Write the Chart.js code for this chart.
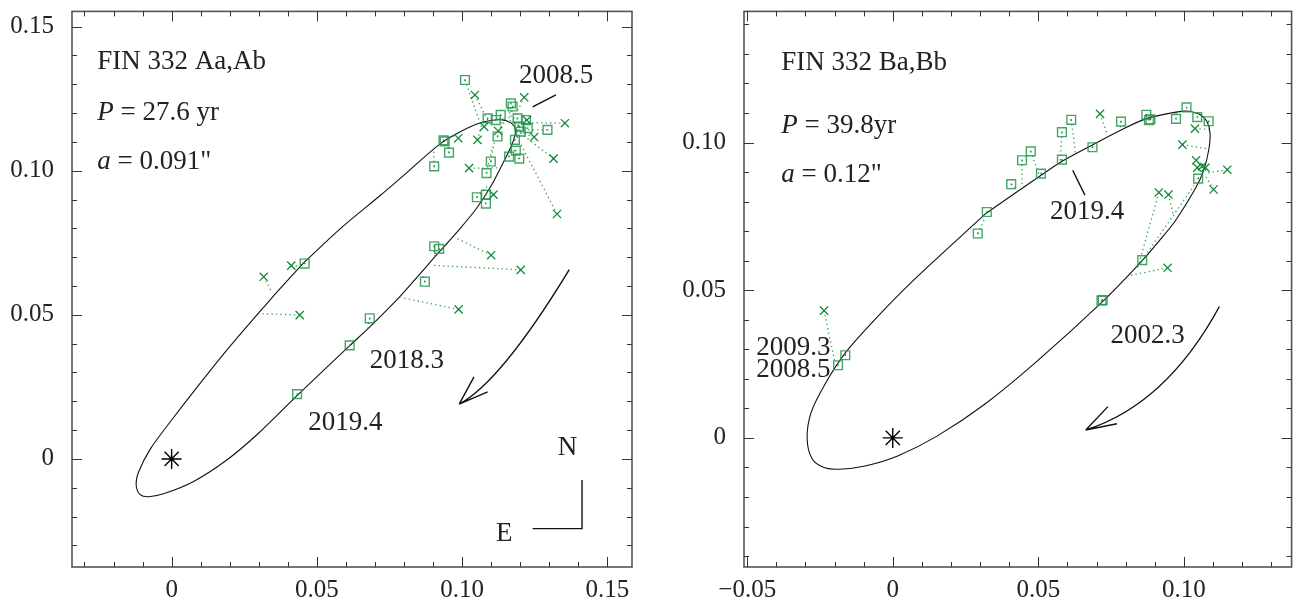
<!DOCTYPE html>
<html>
<head>
<meta charset="utf-8">
<script src="https://cdn.jsdelivr.net/npm/chart.js@4.4.1/dist/chart.umd.min.js"></script>
<style>
  body { margin: 0; background: #fff; }
  #wrap { position: relative; width: 1303px; height: 605px; }
  #left { position: absolute; left: 0; top: 0; }
  #right { position: absolute; left: 650px; top: 0; }
</style>
</head>
<body>
<div id="wrap">
  <canvas id="left" width="650" height="605"></canvas>
  <canvas id="right" width="653" height="605"></canvas>
</div>
<script>
// ---- FIN 332 Aa,Ab (left panel) ----
// orbit, closed loop
const orbitA = [
  [0.0455,0.0681],[0.0582,0.0800],[0.0719,0.0915],[0.0800,0.0985],[0.0927,0.1095],
  [0.1019,0.1148],[0.1076,0.1170],[0.1134,0.1177],[0.1168,0.1166],[0.1184,0.1140],
  [0.1172,0.1092],[0.1140,0.1025],[0.1099,0.0946],[0.1050,0.0870],[0.0990,0.0796],
  [0.0892,0.0685],[0.0789,0.0567],[0.0685,0.0461],[0.0613,0.0393],[0.0437,0.0225],
  [0.0300,0.0090],[0.0191,-0.0003],[0.0076,-0.0078],[-0.0028,-0.0121],[-0.0079,-0.0131],
  [-0.0108,-0.0124],[-0.0122,-0.0092],[-0.0114,-0.0046],[-0.0073,0.0035],[0.0000,0.0135],
  [0.0100,0.0265],[0.0200,0.0390],[0.0340,0.0553],[0.0455,0.0681]
];
// [x obs, y obs, x orbit, y orbit]
const squaresA = [
  [0.1010,0.1315,0.1064,0.1160],[0.0936,0.1106,0.0938,0.1106],[0.0940,0.1102,0.0940,0.1104],
  [0.0955,0.1063,0.0950,0.1115],[0.0904,0.1015,0.0902,0.1075],[0.1099,0.1032,0.1111,0.1100],
  [0.1084,0.0992,0.1105,0.1085],[0.1051,0.0908,0.1090,0.0950],[0.1082,0.0917,0.1090,0.0930],
  [0.1082,0.0886,0.1075,0.0895],[0.1168,0.1234,0.1160,0.1170],[0.1174,0.1223,0.1165,0.1168],
  [0.1088,0.1182,0.1085,0.1172],[0.1133,0.1194,0.1133,0.1177],[0.1116,0.1176,0.1115,0.1176],
  [0.1191,0.1182,0.1175,0.1160],[0.1220,0.1176,0.1180,0.1150],[0.1197,0.1153,0.1183,0.1145],
  [0.1226,0.1148,0.1185,0.1140],[0.1202,0.1136,0.1183,0.1130],[0.1122,0.1119,0.1140,0.1175],
  [0.1182,0.1107,0.1180,0.1110],[0.1294,0.1142,0.1185,0.1142],[0.1185,0.1070,0.1165,0.1070],
  [0.1162,0.1049,0.1160,0.1060],[0.1197,0.1042,0.1170,0.1085],[0.0458,0.0678,0.0455,0.0681],
  [0.0904,0.0738,0.0905,0.0700],[0.0921,0.0729,0.0915,0.0712],[0.0872,0.0615,0.0860,0.0645],
  [0.0682,0.0488,0.0676,0.0455],[0.0613,0.0394,0.0613,0.0393],[0.0432,0.0225,0.0437,0.0225]
];
const crossesA = [
  [0.1044,0.1263,0.1088,0.1175],[0.1214,0.1255,0.1170,0.1165],[0.1354,0.1165,0.1167,0.1168],
  [0.0987,0.1113,0.0960,0.1125],[0.1053,0.1107,0.1070,0.1170],[0.1124,0.1138,0.1150,0.1175],
  [0.1076,0.1153,0.1060,0.1168],[0.1248,0.1117,0.1185,0.1140],[0.1315,0.1042,0.1180,0.1147],
  [0.1024,0.1009,0.1133,0.1010],[0.1108,0.0917,0.1095,0.0935],[0.1327,0.0850,0.1185,0.1125],
  [0.1223,0.1176,0.1185,0.1150],[0.0412,0.0671,0.0432,0.0669],[0.0317,0.0632,0.0346,0.0577],
  [0.0441,0.0499,0.0300,0.0505],[0.0988,0.0519,0.0789,0.0560],[0.1100,0.0707,0.0974,0.0769],
  [0.1202,0.0656,0.0901,0.0672]
];
const xLabelsA = [0, 0.05, 0.10, 0.15];
const yLabelsA = [0, 0.05, 0.10, 0.15];

// ---- FIN 332 Ba,Bb (right panel) ----
const orbitB = [
  [0.0320,0.0760],[0.0512,0.0891],[0.0579,0.0935],[0.0686,0.0992],[0.0781,0.1041],
  [0.0871,0.1081],[0.0973,0.1103],[0.1018,0.1106],[0.1055,0.1095],[0.1079,0.1072],
  [0.1090,0.1030],[0.1085,0.0973],[0.1068,0.0906],[0.1040,0.0845],[0.0972,0.0737],
  [0.0916,0.0668],[0.0849,0.0592],[0.0725,0.0466],[0.0489,0.0254],[0.0317,0.0115],
  [0.0152,0.0006],[0.0017,-0.0061],[-0.0095,-0.0095],[-0.0186,-0.0106],[-0.0236,-0.0100],
  [-0.0276,-0.0072],[-0.0294,-0.0005],[-0.0281,0.0085],[-0.0230,0.0187],[-0.0163,0.0288],
  [-0.0073,0.0389],[0.0062,0.0525],[0.0320,0.0760]
];
const squaresB = [
  [0.0292,0.0692,0.0315,0.0740],[0.0323,0.0765,0.0335,0.0772],[0.0407,0.0859,0.0430,0.0835],
  [0.0444,0.0940,0.0444,0.0850],[0.0474,0.0970,0.0505,0.0885],[0.0509,0.0895,0.0512,0.0891],
  [0.0581,0.1035,0.0575,0.0935],[0.0613,0.1077,0.0628,0.0962],[0.0581,0.0942,0.0581,0.0937],
  [0.0686,0.0984,0.0688,0.0993],[0.0784,0.1071,0.0781,0.1041],[0.0871,0.1094,0.0871,0.1081],
  [0.0880,0.1076,0.0880,0.1085],[0.0885,0.1079,0.0885,0.1086],[0.0973,0.1080,0.0973,0.1103],
  [0.1009,0.1119,0.1015,0.1106],[0.1046,0.1086,0.1051,0.1097],[0.1085,0.1072,0.1088,0.1050],
  [0.1049,0.0878,0.1062,0.0895],[0.0857,0.0602,0.1035,0.0855],[0.0717,0.0465,0.0719,0.0463],
  [0.0721,0.0467,0.0723,0.0465],[-0.0163,0.0280,-0.0163,0.0288],[-0.0188,0.0246,-0.0190,0.0250]
];
const crossesB = [
  [0.0712,0.1097,0.0736,0.1030],[0.1038,0.1047,0.1087,0.1045],[0.0995,0.0993,0.1086,0.0978],
  [0.1042,0.0940,0.1070,0.0920],[0.1046,0.0915,0.1070,0.0915],[0.1062,0.0919,0.1068,0.0908],
  [0.1074,0.0915,0.1068,0.0906],[0.1149,0.0908,0.1072,0.0895],[0.1102,0.0841,0.1070,0.0893],
  [0.0914,0.0831,0.0840,0.0570],[0.0947,0.0824,0.0965,0.0750],[0.0944,0.0576,0.0815,0.0550],
  [-0.0236,0.0431,-0.0200,0.0262]
];
const xLabelsB = [-0.05, 0, 0.05, 0.10];
const yLabelsB = [0, 0.05, 0.10];

const FONT = 'Liberation Serif';
const INK = '#222';
const SQ_GREEN = 'rgba(35,150,75,0.85)';
const X_GREEN = '#168a3c';

// annotations, in data units
const notesA = {
  texts: [
    { at: [-0.0256, 0.1377], parts: [['FIN 332 Aa,Ab', 0]] },
    { at: [-0.0256, 0.1201], parts: [['P', 1], [' = 27.6 yr', 0]] },
    { at: [-0.0256, 0.1029], parts: [['a', 1], [' = 0.091"', 0]] },
    { at: [0.1196, 0.1330], parts: [['2008.5', 0]] },
    { at: [0.0682, 0.0339], parts: [['2018.3', 0]] },
    { at: [0.0470, 0.0125], parts: [['2019.4', 0]] },
    { at: [0.1363, 0.0040], parts: [['N', 0]], center: true },
    { at: [0.1145, -0.0260], parts: [['E', 0]], center: true }
  ],
  lines: [
    [[0.1243, 0.1222], [0.1323, 0.1263]],
    [[0.1243, -0.0242], [0.1413, -0.0242], [0.1413, -0.0073]]
  ],
  arrow: { curve: [[0.1369, 0.0657], [0.1157, 0.0346], [0.0990, 0.0190]],
           barbs: [[0.1041, 0.0285], [0.1088, 0.0233]] }
};
const notesB = {
  texts: [
    { at: [-0.0383, 0.1270], parts: [['FIN 332 Ba,Bb', 0]] },
    { at: [-0.0383, 0.1055], parts: [['P', 1], [' = 39.8yr', 0]] },
    { at: [-0.0383, 0.0892], parts: [['a', 1], [' = 0.12"', 0]] },
    { at: [0.0540, 0.0765], parts: [['2019.4', 0]] },
    { at: [-0.0469, 0.0305], parts: [['2009.3', 0]] },
    { at: [-0.0469, 0.0231], parts: [['2008.5', 0]] },
    { at: [0.0748, 0.0346], parts: [['2002.3', 0]] }
  ],
  lines: [
    [[0.0618, 0.0906], [0.0660, 0.0822]]
  ],
  arrow: { curve: [[0.1122, 0.0445], [0.0916, 0.0175], [0.0663, 0.0027]],
           barbs: [[0.0739, 0.0106], [0.0770, 0.0048]] }
};

const panelDecor = {
  id: 'panelDecor',
  afterDraw(chart, args, o) {
    const { ctx, chartArea: a, scales: { x, y } } = chart;
    const px = v => x.getPixelForValue(v), py = v => y.getPixelForValue(v);
    ctx.save();
    // frame
    ctx.strokeStyle = '#555';
    ctx.lineWidth = 1.6;
    ctx.strokeRect(a.left, a.top, a.right - a.left, a.bottom - a.top);
    // inward ticks on all four sides
    ctx.strokeStyle = '#333';
    ctx.lineWidth = 1;
    ctx.beginPath();
    for (let k = Math.ceil(x.min / 0.01 - 1e-6); k <= Math.floor(x.max / 0.01 + 1e-6); k++) {
      const len = k % 5 === 0 ? 10 : 5, p = Math.round(px(k * 0.01)) + 0.5;
      ctx.moveTo(p, a.bottom); ctx.lineTo(p, a.bottom - len);
      ctx.moveTo(p, a.top); ctx.lineTo(p, a.top + len);
    }
    for (let k = Math.ceil(y.min / 0.01 - 1e-6); k <= Math.floor(y.max / 0.01 + 1e-6); k++) {
      const len = k % 5 === 0 ? 10 : 5, p = Math.round(py(k * 0.01)) + 0.5;
      ctx.moveTo(a.left, p); ctx.lineTo(a.left + len, p);
      ctx.moveTo(a.right, p); ctx.lineTo(a.right - len, p);
    }
    ctx.stroke();

    // texts
    ctx.fillStyle = INK;
    ctx.textBaseline = 'middle';
    ctx.textAlign = 'left';
    o.texts.forEach(t => {
      const fonts = t.parts.map(p => (p[1] ? 'italic ' : '') + '27px "' + FONT + '"');
      let w = 0;
      t.parts.forEach((p, i) => { ctx.font = fonts[i]; w += ctx.measureText(p[0]).width; });
      let cx = px(t.at[0]) - (t.center ? w / 2 : 0);
      t.parts.forEach((p, i) => {
        ctx.font = fonts[i];
        ctx.fillText(p[0], cx, py(t.at[1]));
        cx += ctx.measureText(p[0]).width;
      });
    });

    // plain lines
    ctx.strokeStyle = '#111';
    ctx.lineWidth = 1.4;
    o.lines.forEach(l => {
      ctx.beginPath();
      l.forEach((p, i) => i ? ctx.lineTo(px(p[0]), py(p[1])) : ctx.moveTo(px(p[0]), py(p[1])));
      ctx.stroke();
    });

    // curved arrow through three points
    const [s, m, e] = o.arrow.curve.map(p => [px(p[0]), py(p[1])]);
    const c = [2 * m[0] - (s[0] + e[0]) / 2, 2 * m[1] - (s[1] + e[1]) / 2];
    ctx.beginPath();
    ctx.moveTo(s[0], s[1]);
    ctx.quadraticCurveTo(c[0], c[1], e[0], e[1]);
    o.arrow.barbs.forEach(b => { ctx.moveTo(px(b[0]), py(b[1])); ctx.lineTo(e[0], e[1]); });
    ctx.stroke();
    ctx.restore();
  }
};

function labelFor(v, list) {
  const hit = list.find(l => Math.abs(l - v) < 1e-6);
  if (hit === undefined) return '';
  if (hit === 0) return '0';
  return (hit < 0 ? '\u2212' : '') + Math.abs(hit).toFixed(2);
}

function axis(min, max, labels, horizontal, yWidth) {
  return {
    type: 'linear', min: min, max: max,
    grid: { display: false, drawTicks: false },
    border: { display: false },
    ticks: {
      stepSize: 0.01, autoSkip: false, maxRotation: 0, minRotation: 0,
      includeBounds: false,
      padding: horizontal ? 8 : 18,
      color: INK,
      font: { family: FONT, size: 25 },
      callback: v => labelFor(v, labels)
    },
    afterFit: s => {
      if (horizontal) s.height = 38; else s.width = yWidth;
      s.paddingTop = 0; s.paddingBottom = 0; s.paddingLeft = 0; s.paddingRight = 0;
    }
  };
}

function residuals(rows) {
  const pts = [];
  rows.forEach(r => {
    pts.push({ x: r[0], y: r[1] }, { x: r[2], y: r[3] }, { x: r[2], y: null });
  });
  return pts;
}

function makePanel(id, orbit, squares, crosses, xr, yr, xl, yl, yWidth, rightPad, notes) {
  const obs = rows => rows.map(r => ({ x: r[0], y: r[1] }));
  new Chart(document.getElementById(id), {
    type: 'scatter',
    data: {
      datasets: [
        { label: 'primary', data: [{ x: 0, y: 0 }], pointStyle: 'star', pointRadius: 10,
          borderColor: '#000', borderWidth: 1.4, order: 0 },
        { label: 'other', data: obs(crosses), pointStyle: 'crossRot', pointRadius: 5.8,
          borderColor: X_GREEN, borderWidth: 1.3, order: 1 },
        { label: 'speckle dots', data: obs(squares), pointStyle: 'rect', pointRadius: 1,
          backgroundColor: '#2a8a4a', borderWidth: 0, order: 2 },
        { label: 'speckle', data: obs(squares), pointStyle: 'rect', pointRadius: 6.2,
          backgroundColor: 'rgba(255,255,255,0)', borderColor: SQ_GREEN, borderWidth: 1.4, order: 3 },
        { label: 'residuals', data: residuals(squares.concat(crosses)), showLine: true,
          pointRadius: 0, borderColor: 'rgba(30,145,70,0.9)', borderWidth: 1.3,
          borderDash: [1.3, 3.2], spanGaps: false, order: 4 },
        { label: 'orbit', data: orbit.map(p => ({ x: p[0], y: p[1] })), showLine: true,
          pointRadius: 0, borderColor: '#111', borderWidth: 1.1, tension: 0.3, order: 5 }
      ]
    },
    options: {
      responsive: false,
      animation: false,
      devicePixelRatio: 1,
      events: [],
      layout: { padding: { top: 10, right: rightPad, left: 0, bottom: 0 } },
      scales: {
        x: axis(xr[0], xr[1], xl, true),
        y: axis(yr[0], yr[1], yl, false, yWidth)
      },
      plugins: {
        legend: { display: false },
        tooltip: { enabled: false },
        panelDecor: notes
      }
    },
    plugins: [panelDecor]
  });
}

makePanel('left', orbitA, squaresA, crossesA, [-0.0343, 0.1585], [-0.0375, 0.1553],
  xLabelsA, yLabelsA, 72, 18, notesA);
makePanel('right', orbitB, squaresB, crossesB, [-0.0511, 0.1370], [-0.0437, 0.1444],
  xLabelsB, yLabelsB, 94, 2, notesB);
</script>
</body>
</html>
